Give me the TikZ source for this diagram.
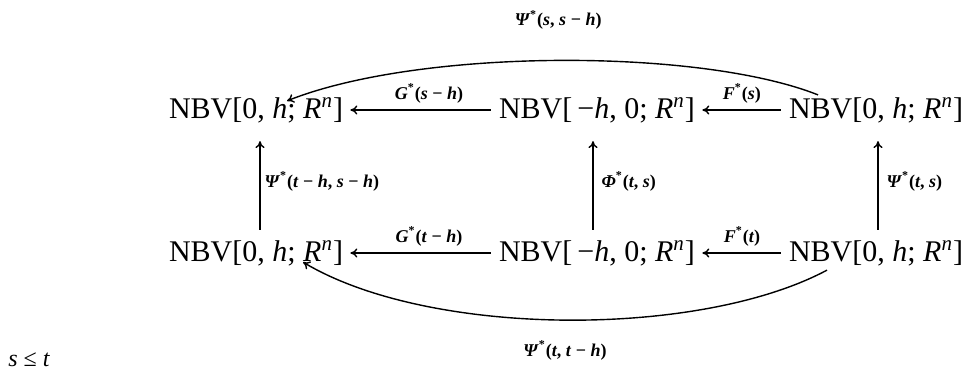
\documentclass[tikz,border=0pt]{standalone}
\usepackage{fontspec}
\setmainfont{Liberation Serif}
\usetikzlibrary{arrows.meta,calc}
\newcommand\iv[1]{\textit{#1}}
\newcommand\spc{NBV[0, \iv{h}; \iv{R}\textsuperscript{\iv{n}}]}
\newcommand\spm{NBV[\,−\iv{h}, 0; \iv{R}\textsuperscript{\iv{n}}]}
\begin{document}
\begin{tikzpicture}[x=0.5pt,y=-0.5pt,
  obj/.style={inner sep=0pt,font=\fontsize{15}{18}\selectfont},
  lab/.style={inner sep=1pt,font=\fontsize{9}{11}\selectfont\bfseries},
  ar/.style={-{To[length=3.5pt,width=4.5pt]},line width=0.7pt},
  hz/.style={ar,shorten <=4pt,shorten >=3.5pt},
  vt/.style={ar,shorten <=5pt,shorten >=9pt}]
\useasboundingbox (0,0) rectangle (968,376);
\node[obj] (TL) at (256,110) {\spc};
\node[obj] (TM) at (597,110) {\spm};
\node[obj] (TR) at (876,110) {\spc};
\node[obj] (BL) at (256,253) {\spc};
\node[obj] (BM) at (597,253) {\spm};
\node[obj] (BR) at (876,253) {\spc};
% horizontal arrows
\draw[hz] (TM.west) -- node[lab,above=2pt,xshift=4pt] {\iv{G}\textsuperscript{*}(\iv{s} − \iv{h})} (TL.east);
\draw[hz] (TR.west) -- node[lab,above=2pt] {\iv{F}\textsuperscript{*}(\iv{s})} (TM.east);
\draw[hz] (BM.west) -- node[lab,above=2pt,xshift=4pt] {\iv{G}\textsuperscript{*}(\iv{t} − \iv{h})} (BL.east);
\draw[hz] (BR.west) -- node[lab,above=2pt] {\iv{F}\textsuperscript{*}(\iv{t})} (BM.east);
% vertical arrows
\draw[vt] ([xshift=2pt]BL.north) -- node[lab,right=1pt] {\iv{Ψ}\textsuperscript{*}(\iv{t} − \iv{h}, \iv{s} − \iv{h})} ([xshift=2pt]TL.south);
\draw[vt] ([xshift=-2pt]BM.north) -- node[lab,right=3pt] {\iv{Φ}\textsuperscript{*}(\iv{t}, \iv{s})} ([xshift=-2pt]TM.south);
\draw[vt] ([xshift=1pt]BR.north) -- node[lab,right=3pt] {\iv{Ψ}\textsuperscript{*}(\iv{t}, \iv{s})} ([xshift=1pt]TR.south);
% curved arrows
\coordinate (ts) at ($(TR.north)+(-58,-2)$);
\coordinate (te) at ($(TL.north)+(31,4)$);
\draw[ar] (ts) .. controls (700,48) and (420,48) .. node[lab,above=14pt] {\iv{Ψ}\textsuperscript{*}(\iv{s}, \iv{s} − \iv{h})} (te);
\coordinate (bs) at ($(BR.south)+(-49,4)$);
\coordinate (be) at ($(BL.south)+(47,-4)$);
\draw[ar] (bs) .. controls (700,338) and (430,338) .. node[lab,below=9pt] {\iv{Ψ}\textsuperscript{*}(\iv{t}, \iv{t} − \iv{h})} (be);
\node[anchor=west,inner sep=0pt,font=\fontsize{12}{14}\selectfont] (cond) at (8,360) {\iv{s} ≤ \iv{t}};
\end{tikzpicture}
\end{document}
